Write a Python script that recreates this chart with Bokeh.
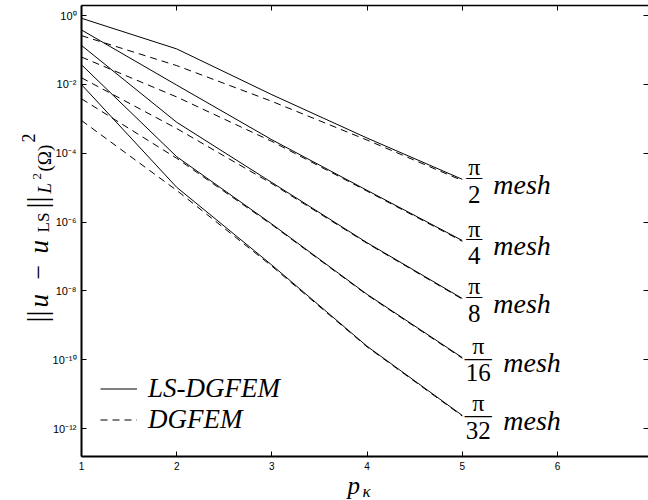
from math import pi
from bokeh.plotting import figure
from bokeh.models import (Range1d, LogAxis, LinearAxis, FixedTicker, Label,
                          Legend, LegendItem)
from bokeh.embed import file_html
from bokeh.resources import INLINE

# ---------------- data ----------------
p_kappa = [1, 2, 3, 4, 5]
mesh_denoms = ["2", "4", "8", "16", "32"]

ls_pi2 = [8.3e-1, 1.07e-1, 5.0e-3, 2.75e-4, 1.74e-5]
ls_pi4 = [3.8e-1, 9.5e-3, 2.45e-4, 8.3e-6, 2.9e-7]
ls_pi8 = [1.35e-1, 7.9e-4, 1.4e-5, 2.5e-7, 6.0e-9]
ls_pi16 = [3.7e-2, 7.9e-5, 8.7e-7, 7.9e-9, 1.15e-10]
ls_pi32 = [9.8e-3, 1.02e-5, 5.6e-8, 2.45e-10, 2.4e-12]

dg_pi2 = [2.6e-1, 3.5e-2, 3.2e-3, 2.4e-4, 1.6e-5]
dg_pi4 = [6.2e-2, 4.3e-3, 2.2e-4, 7.9e-6, 2.75e-7]
dg_pi8 = [1.55e-2, 5.2e-4, 1.3e-5, 2.4e-7, 5.75e-9]
dg_pi16 = [3.8e-3, 7.1e-5, 8.3e-7, 7.6e-9, 1.1e-10]
dg_pi32 = [8.9e-4, 8.3e-6, 5.2e-8, 2.35e-10, 2.3e-12]

x_ticks = [1, 2, 3, 4, 5, 6]
y_tick_exps = [0, -2, -4, -6, -8, -10, -12]

ls_series = [ls_pi2, ls_pi4, ls_pi8, ls_pi16, ls_pi32]
dg_series = [dg_pi2, dg_pi4, dg_pi8, dg_pi16, dg_pi32]

# axes extents (data units)
x_lo, x_hi = 1, 6.956
y_lo, y_hi = 10 ** -12.81, 10 ** 0.29

# ---------------- figure ----------------
SERIF = "Liberation Serif"
SANS = "Liberation Sans"
W, H = 648, 500

# the frame covers the whole canvas; axes are pinned at fixed locations
p = figure(width=W, height=H, x_range=Range1d(0.149, 6.956),
           y_range=Range1d(10 ** -14.092, 10 ** 0.436), y_axis_type="log",
           x_axis_location=None, y_axis_location=None,
           output_backend="svg", toolbar_location=None,
           min_border_left=0, min_border_right=0, min_border_top=0,
           min_border_bottom=0)
p.outline_line_color = None
p.xgrid.visible = False
p.ygrid.visible = False
p.background_fill_color = "white"
p.border_fill_color = "white"

sup = str.maketrans("-0123456789", "⁻⁰¹²³⁴⁵⁶⁷⁸⁹")
y_ticks = [10.0 ** e for e in y_tick_exps]
y_over = {t: "10" + str(e).translate(sup) for t, e in zip(y_ticks, y_tick_exps)}

bottom_ax = LinearAxis(fixed_location=y_lo, bounds=(x_lo, x_hi))
top_ax = LinearAxis(fixed_location=y_hi, bounds=(x_lo, x_hi))
left_ax = LogAxis(fixed_location=x_lo, bounds=(y_lo, y_hi))
right_ax = LogAxis(fixed_location=x_hi, bounds=(y_lo, y_hi))
p.add_layout(bottom_ax, "below")
p.add_layout(top_ax, "above")
p.add_layout(left_ax, "left")
p.add_layout(right_ax, "right")

for ax in [bottom_ax, top_ax]:
    ax.ticker = FixedTicker(ticks=x_ticks)
for ax in [left_ax, right_ax]:
    ax.ticker = FixedTicker(ticks=y_ticks)

for ax in [bottom_ax, top_ax, left_ax, right_ax]:
    ax.major_tick_in = 5
    ax.major_tick_out = 0
    ax.minor_tick_in = 0
    ax.minor_tick_out = 0
    ax.major_tick_line_color = "black"
    ax.major_tick_line_width = 1
    ax.axis_line_color = "black"

for ax in [top_ax, right_ax]:
    ax.major_label_text_font_size = "1px"
    ax.major_label_text_color = None
    ax.major_label_standoff = 0
right_ax.axis_line_color = None
top_ax.axis_line_width = 1.5

bottom_ax.axis_line_width = 2
left_ax.axis_line_width = 2
bottom_ax.major_label_text_font = SANS
bottom_ax.major_label_text_font_size = "10px"
bottom_ax.major_label_text_color = "black"
bottom_ax.major_label_standoff = 6
left_ax.major_label_text_font = SANS
left_ax.major_label_text_font_size = "11px"
left_ax.major_label_text_color = "black"
left_ax.major_label_standoff = 5
left_ax.major_label_overrides = y_over

# ---------------- lines ----------------
ls_renderers = []
dg_renderers = []
for ls, dg in zip(ls_series, dg_series):
    ls_renderers.append(p.line(p_kappa, ls, line_color="black", line_width=1))
    dg_renderers.append(p.line(p_kappa, dg, line_color="black", line_width=1,
                               line_dash="7 5"))

# ---------------- mesh annotations ----------------
for ls, d in zip(ls_series, mesh_denoms):
    xe, ye = p_kappa[-1], ls[-1]
    wide = len(d) > 1
    cx = 16 if wide else 12
    p.add_layout(Label(x=xe, y=ye, x_offset=cx, y_offset=12, text="π",
                       text_font=SERIF, text_font_size="24px",
                       text_align="center", text_baseline="alphabetic",
                       text_color="black"))
    p.add_layout(Label(x=xe, y=ye, x_offset=cx, y_offset=1 if wide else 3,
                       text="—", text_font=SERIF,
                       text_font_size="27px" if wide else "16px",
                       text_align="center", text_baseline="alphabetic",
                       text_color="black"))
    p.add_layout(Label(x=xe, y=ye, x_offset=cx, y_offset=-15, text=d,
                       text_font=SERIF, text_font_size="25px",
                       text_align="center", text_baseline="alphabetic",
                       text_color="black"))
    p.add_layout(Label(x=xe, y=ye, x_offset=41 if wide else 31, y_offset=-5,
                       text="mesh", text_font=SERIF, text_font_style="italic",
                       text_font_size="28px", text_align="left",
                       text_baseline="alphabetic", text_color="black"))

# ---------------- legend ----------------
legend = Legend(items=[LegendItem(label="LS-DGFEM", renderers=[ls_renderers[0]]),
                       LegendItem(label="DGFEM", renderers=[dg_renderers[0]])],
                location=(100, 65), padding=0, spacing=0, margin=0,
                glyph_width=37, glyph_height=27, label_height=27,
                label_standoff=11, border_line_color=None,
                background_fill_alpha=0,
                label_text_font=SERIF, label_text_font_style="italic",
                label_text_font_size="27px", label_text_color="black")
p.add_layout(legend)


# ---------------- axis titles (screen units = canvas pixels) ----------------
def ylab(text, cy, bx, size, style="normal"):
    p.add_layout(Label(x=bx, y=H - cy, x_units="screen", y_units="screen",
                       text=text, angle=pi / 2, text_font=SERIF,
                       text_font_style=style, text_font_size=f"{size}px",
                       text_align="left", text_baseline="alphabetic",
                       text_color="black"))


ylab("||", 322, 36, 30)
ylab("u", 307, 38, 27, "italic")
ylab("−", 279, 38, 26)
ylab("u", 253, 38, 27, "italic")
ylab("LS", 232, 43, 17)
ylab("||", 208, 36, 30)
ylab("L", 193, 44, 19, "italic")
ylab("2", 179, 36, 13)
ylab("(Ω)", 171, 44, 19)
ylab("2", 142, 28, 18)


def xlab(text, cx, by, size, style="normal"):
    p.add_layout(Label(x=cx, y=H - by, x_units="screen", y_units="screen",
                       text=text, text_font=SERIF, text_font_style=style,
                       text_font_size=f"{size}px", text_align="left",
                       text_baseline="alphabetic", text_color="black"))


xlab("p", 347, 485, 25, "italic")
xlab("κ", 362, 491, 17, "italic")

open("out.html", "w").write(file_html(p, INLINE))
